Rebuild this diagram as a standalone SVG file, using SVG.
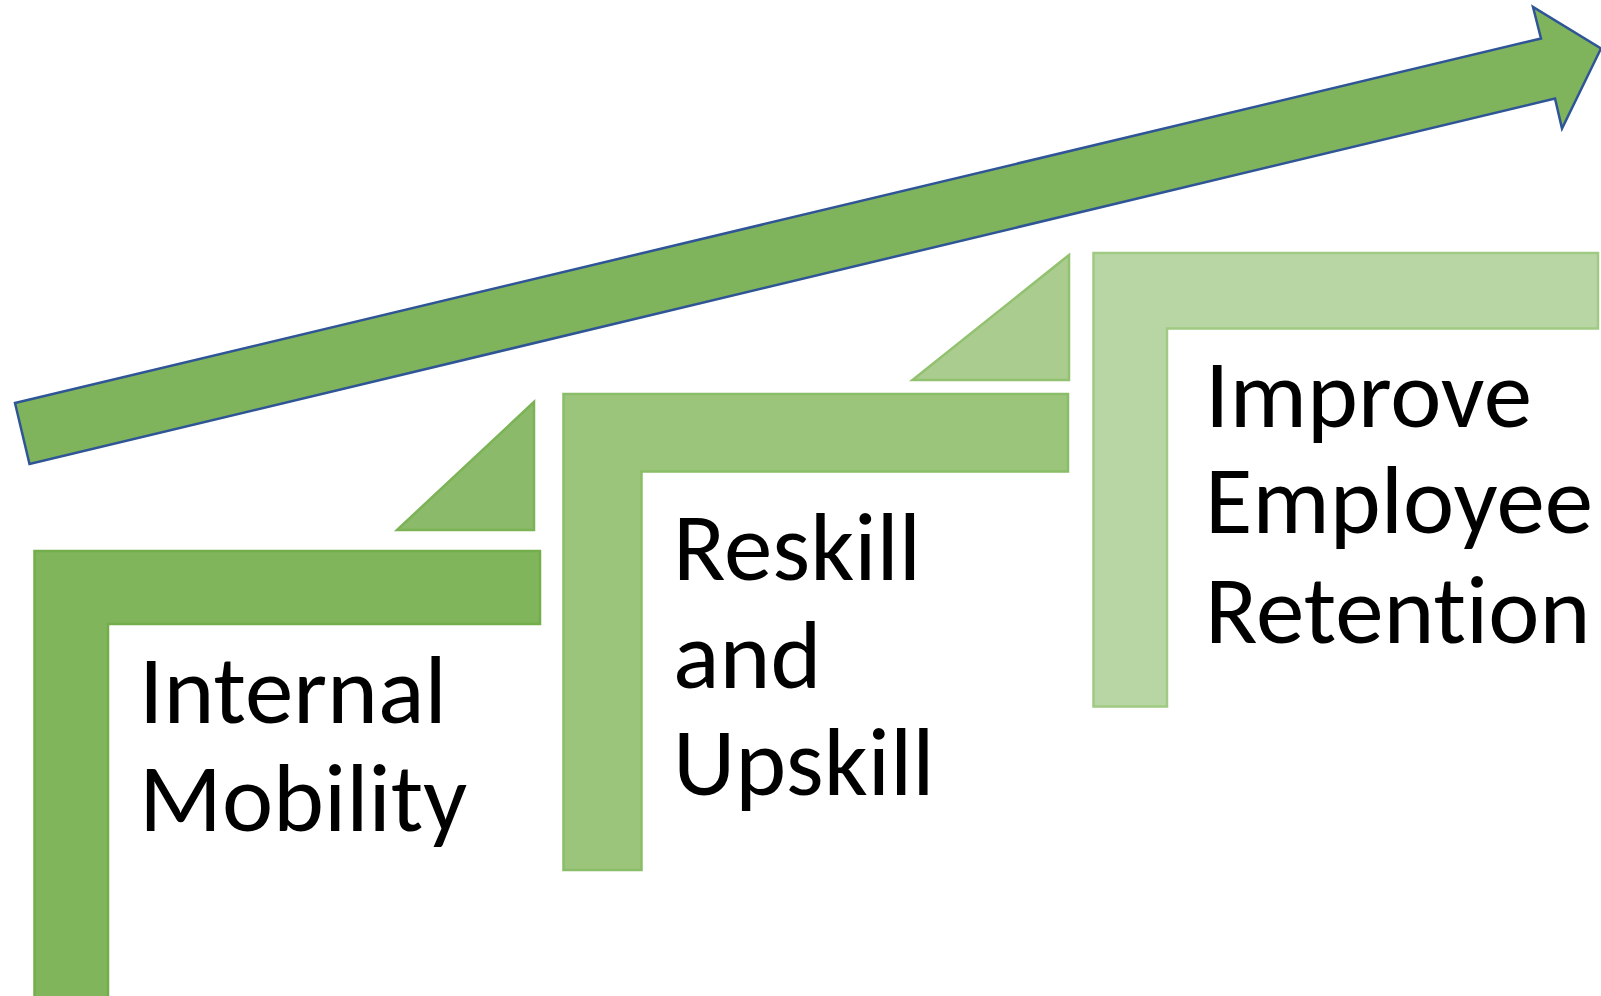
<svg xmlns="http://www.w3.org/2000/svg" width="1601" height="996" viewBox="0 0 1601 996">
<style>
.lbl{font-family:Carlito,Calibri,Lato,"Liberation Sans",sans-serif;font-size:97px;fill:#000;font-variant-ligatures:none;font-feature-settings:"liga" 0}
.step{stroke-width:2.5;stroke-linejoin:miter}
</style>
<rect width="1601" height="996" fill="#fff"/>
<g id="arrow">
<polygon points="15,403 1541,38.5 1533,7 1601,48.5 1562,128.5 1555,98.5 29.5,464" fill="#7fb45c" stroke="#2f5597" stroke-width="2.5" stroke-linejoin="miter"/>
</g>
<g id="step1">
<polygon class="step" points="34.5,551 540,551 540,624 108,624 108,1000 34.5,1000" fill="#80b55b" stroke="#74ae4c"/>
<polygon class="step" points="534,402 534,530 397,530" fill="#8bbb6a" stroke="#7cb356"/>
<text class="lbl" x="139" y="723">Internal</text>
<text class="lbl" x="139" y="831">Mobility</text>
</g>
<g id="step2">
<polygon class="step" points="563.5,394 1068,394 1068,471.5 641.5,471.5 641.5,870 563.5,870" fill="#9cc57c" stroke="#8abd67"/>
<polygon class="step" points="1069,255 1069,380 912.5,380" fill="#aacd8f" stroke="#92c16f"/>
<text class="lbl" x="673" y="580">Reskill</text>
<text class="lbl" x="673" y="688">and</text>
<text class="lbl" x="673" y="795">Upskill</text>
</g>
<g id="step3">
<polygon class="step" points="1093.5,253 1598,253 1598,328.5 1167,328.5 1167,706.5 1093.5,706.5" fill="#b8d6a3" stroke="#a0ca83"/>
<text class="lbl" x="1205" y="427">Improve</text>
<text class="lbl" x="1205" y="533">Employee</text>
<text class="lbl" x="1205" y="643">Retention</text>
</g>
</svg>
